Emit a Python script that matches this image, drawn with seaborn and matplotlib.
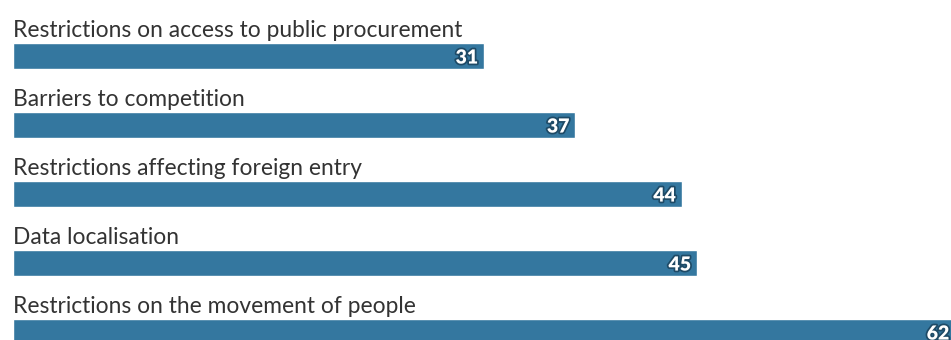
import matplotlib
matplotlib.use("Agg")
import matplotlib.pyplot as plt
import matplotlib.patheffects as pe
import seaborn as sns
import pandas as pd

categories = [
    "Restrictions on access to public procurement",
    "Barriers to competition",
    "Restrictions affecting foreign entry",
    "Data localisation",
    "Restrictions on the movement of people",
]
values = [31, 37, 44, 45, 62]

bar_color = "#34779f"
text_color = "#333333"

sns.set_theme(style="white")
plt.rcParams["font.family"] = ["Lato", "DejaVu Sans"]

df = pd.DataFrame({"category": categories, "value": values})

fig = plt.figure(figsize=(9.51, 3.40), dpi=100)
ax = fig.add_axes([13 / 951, 0, 1 - 13 / 951, 1])

sns.barplot(data=df, x="value", y="category", orient="h", color=bar_color,
            saturation=1, width=0.377, ax=ax)

ax.set_xlim(0, 61.7)
ax.set_ylim(4.116, -0.8116)
ax.axis("off")

for i, (cat, val) in enumerate(zip(categories, values)):
    ax.text(0, i - 0.19 - 0.085, cat, ha="left", va="baseline",
            fontsize=16.4, color=text_color)
    ax.text(val - 0.4, i + 0.03, str(val), ha="right", va="center",
            fontsize=14, fontweight="heavy", color="white",
            path_effects=[pe.withStroke(linewidth=2.5, foreground="#1e4a66")])

fig.savefig("out.png", dpi=100)
